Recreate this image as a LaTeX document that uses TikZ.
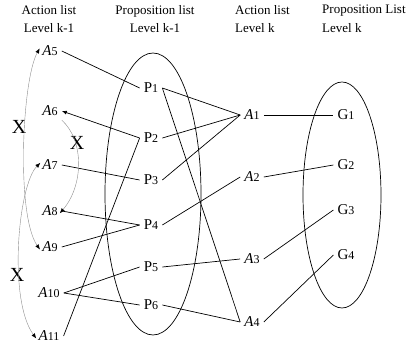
\documentclass[tikz,border=0pt]{standalone}
\usepackage{fontspec}
\setmainfont{Liberation Serif}
\usepackage{tikz}
\usetikzlibrary{
	arrows.meta,
	calc,
}
\newcommand{\digitsize}{\fontsize{12}{14}\selectfont}
\newcommand{\actlbl}[1]{\textit{A}{\digitsize #1}}
\newcommand{\proplbl}[2]{#1{\digitsize #2}}
\tikzset{default node/.style={
	inner sep=4pt,
	font=\fontsize{15}{18.5}\selectfont,
}}
\tikzset{header/.style={
	default node,
	inner sep=0mm,
	font=\fontsize{13}{18.5}\selectfont,
}}
\tikzset{cross/.style={
	default node,
	inner sep=0mm,
	font=\fontsize{20}{20}\selectfont,
}}
\tikzset{link/.style={
	draw,
	line width=0.7pt,
}}
\tikzset{set/.style={
	draw,
	line width=0.7pt,
}}
\tikzset{mutex/.style={
	draw=black!45,
	line width=0.4pt,
	shorten <=-3pt,
	shorten >=-3pt,
}}

\begin{document}
\begin{tikzpicture}[x=1pt, y=-1pt, >={Latex[length=5pt,width=4pt,black]},
	every node/.style={default node}]
\useasboundingbox (0,0) rectangle (413,350);

% headers
\node[header, align=center](h1) at (49,19) {Action list\\Level k-1};
\node[header, align=center](h2) at (155,19) {Proposition list\\Level k-1};
\node[header, align=left, anchor=west](h3) at (235,19) {Action list\\Level k};
\node[header, align=left, anchor=west](h4) at (322,19) {Proposition List\\Level k};

% proposition sets
\draw[set] (153,194) ellipse [x radius=48pt, y radius=141pt];
\draw[set] (342,195) ellipse [x radius=39pt, y radius=113pt];

% actions, level k-1
\node(a5) 	at (50,51) 	{\actlbl{5}};
\node(a6) 	at (50,111) {\actlbl{6}};
\node(a7) 	at (50,165) {\actlbl{7}};
\node(a8) 	at (50,211) {\actlbl{8}};
\node(a9) 	at (50,247) {\actlbl{9}};
\node(a10) 	at (49,293) {\actlbl{10}};
\node(a11) 	at (49,336) {\actlbl{11}};

% propositions, level k-1
\node(p1) 	at (151,88) 	{\proplbl{P}{1}};
\node(p2) 	at (151,138) 	{\proplbl{P}{2}};
\node(p3) 	at (151,180) 	{\proplbl{P}{3}};
\node(p4) 	at (151,225) 	{\proplbl{P}{4}};
\node(p5) 	at (151,267) 	{\proplbl{P}{5}};
\node(p6) 	at (151,305) 	{\proplbl{P}{6}};

% actions, level k
\node(a1) 	at (252,115) 	{\actlbl{1}};
\node(a2) 	at (252,177) 	{\actlbl{2}};
\node(a3) 	at (252,259) 	{\actlbl{3}};
\node(a4) 	at (252,322) 	{\actlbl{4}};

% propositions, level k
\node(g1) 	at (346,115) 	{\proplbl{G}{1}};
\node(g2) 	at (346,165) 	{\proplbl{G}{2}};
\node(g3) 	at (346,210) 	{\proplbl{G}{3}};
\node(g4) 	at (346,255) 	{\proplbl{G}{4}};

% mutex marks
\node[cross](x1) at (19,127) {X};
\node[cross](x2) at (77,143) {X};
\node[cross](x3) at (17,275) {X};

% A(k-1) -- P(k-1)
\draw[link] (a5.east) -- (p1.west);
\draw[link, ->] (p2.west) -- (a6.east);
\draw[link] (p2.west) -- (a11.east);
\draw[link] (a7.east) -- (p3.west);
\draw[link] (a8.east) -- (p4.west);
\draw[link] (a9.east) -- (p4.west);
\draw[link] (a10.east) -- (p5.west);
\draw[link] (a10.east) -- (p6.west);

% P(k-1) -> A(k)
\draw[link] (p1.east) -- (a1.west);
\draw[link] (p2.east) -- (a1.west);
\draw[link] (p3.east) -- (a1.west);
\draw[link] (p4.east) -- (a2.west);
\draw[link] (p5.east) -- (a3.west);
\draw[link] (p1.east) -- (a4.west);
\draw[link] (p6.east) -- (a4.west);

% A(k) -> G(k)
\draw[link] (a1.east) -- (g1.west);
\draw[link] (a2.east) -- (g2.west);
\draw[link] (a3.east) -- (g3.west);
\draw[link] (a4.east) -- (g4.west);

% mutex curves
\draw[mutex, <->] (a5.west) .. controls (22,80) and (16,215) .. (a9.west);
\draw[mutex, <->] (a7.west) .. controls (18,185) and (8,300) .. (a11.west);
\draw[mutex, ->, shorten <=0pt] (a6.south east) .. controls (84,140) and (84,185) .. (a8.east);

\end{tikzpicture}
\end{document}
